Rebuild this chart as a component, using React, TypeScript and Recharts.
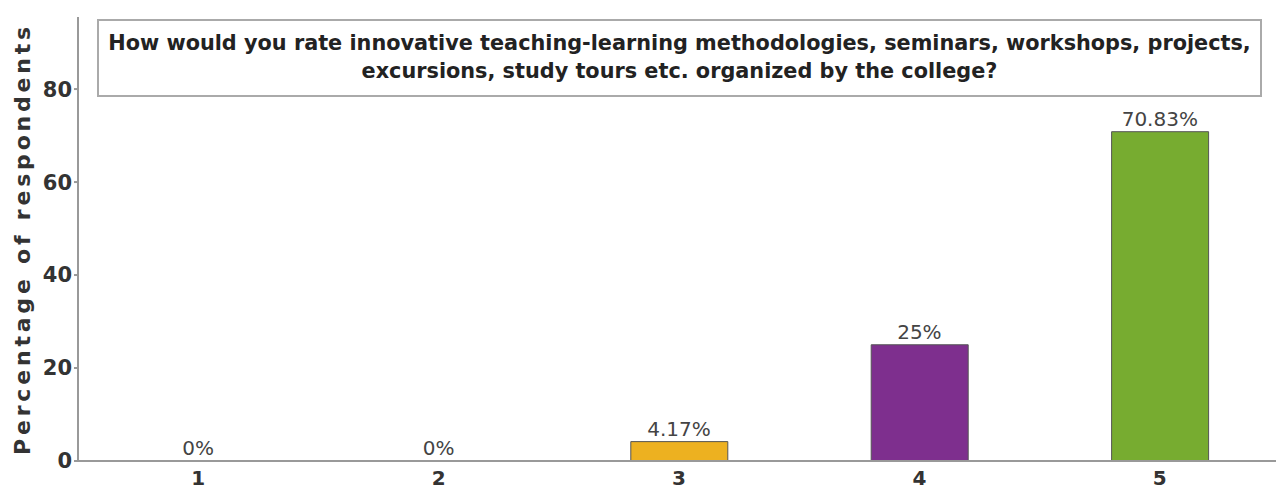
import { ComposedChart, Bar, Line, XAxis, YAxis, Cell, LabelList, Label } from 'recharts';

const ratings = ['1', '2', '3', '4', '5'];
const percents = [0, 0, 4.17, 25, 70.83];
const barColors = ['#0072BD', '#D95319', '#EDB120', '#7E2F8E', '#77AC30'];
const yTicks = [0, 20, 40, 60, 80];

const titleLines = [
  'How would you rate innovative teaching-learning methodologies, seminars, workshops, projects,',
  'excursions, study tours etc. organized by the college?',
];

const data = ratings.map((r, i) => ({ rating: r, pct: percents[i] }));

const font = '"DejaVu Sans", sans-serif';

// labels hang off an invisible line so the zero bars still get "0%"
const renderPct = (props: any) => {
  const { x, y, value } = props;
  return (
    <text x={x} y={Number(y) - 6} textAnchor="middle" fill="#444" fontSize={20} fontFamily={font}>
      {`${value}%`}
    </text>
  );
};

export default function App() {
  return (
    <div style={{ position: 'absolute', left: 0, top: 0, width: 1276, height: 495, overflow: 'hidden', background: '#fff' }}>
      <ComposedChart
        width={1285}
        height={495}
        data={data}
        margin={{ top: 17, right: 5, left: 0, bottom: 0 }}
        barSize={97}
      >
        <XAxis
          dataKey="rating"
          height={34}
          stroke="#999"
          strokeWidth={2}
          tickLine={false}
          tick={{ fill: '#333', fontSize: 20, fontWeight: 'bold', fontFamily: font }}
          tickMargin={4}
        />
        <YAxis
          width={78}
          domain={[0, 95.5]}
          ticks={yTicks}
          stroke="#999"
          strokeWidth={2}
          tickSize={4}
          tick={{ fill: '#333', fontSize: 21, fontWeight: 'bold', fontFamily: font }}
        >
          <Label
            content={() => (
              <text
                x={22}
                y={239}
                transform="rotate(-90, 22, 239)"
                textAnchor="middle"
                dominantBaseline="central"
                fill="#333"
                fontSize={22}
                fontWeight="bold"
                fontFamily={font}
                letterSpacing={3.8}
              >
                Percentage of respondents
              </text>
            )}
          />
        </YAxis>
        <Bar dataKey="pct" isAnimationActive={false} stroke="#555" strokeWidth={1}>
          {data.map((d, i) => (
            <Cell key={d.rating} fill={barColors[i]} />
          ))}
        </Bar>
        <Line
          dataKey="pct"
          stroke="none"
          dot={false}
          activeDot={false}
          isAnimationActive={false}
          legendType="none"
        >
          <LabelList dataKey="pct" content={renderPct} />
        </Line>
      </ComposedChart>
      <div
        style={{
          position: 'absolute',
          left: 97,
          top: 19,
          width: 1165,
          height: 78,
          border: '2px solid #aaa',
          boxSizing: 'border-box',
          textAlign: 'center',
          fontFamily: font,
          fontWeight: 'bold',
          fontSize: 20.8,
          lineHeight: '28px',
          color: '#222',
          paddingTop: 8,
          background: '#fff',
        }}
      >
        {titleLines.map((l) => (
          <div key={l} style={{ whiteSpace: 'nowrap' }}>{l}</div>
        ))}
      </div>
    </div>
  );
}
